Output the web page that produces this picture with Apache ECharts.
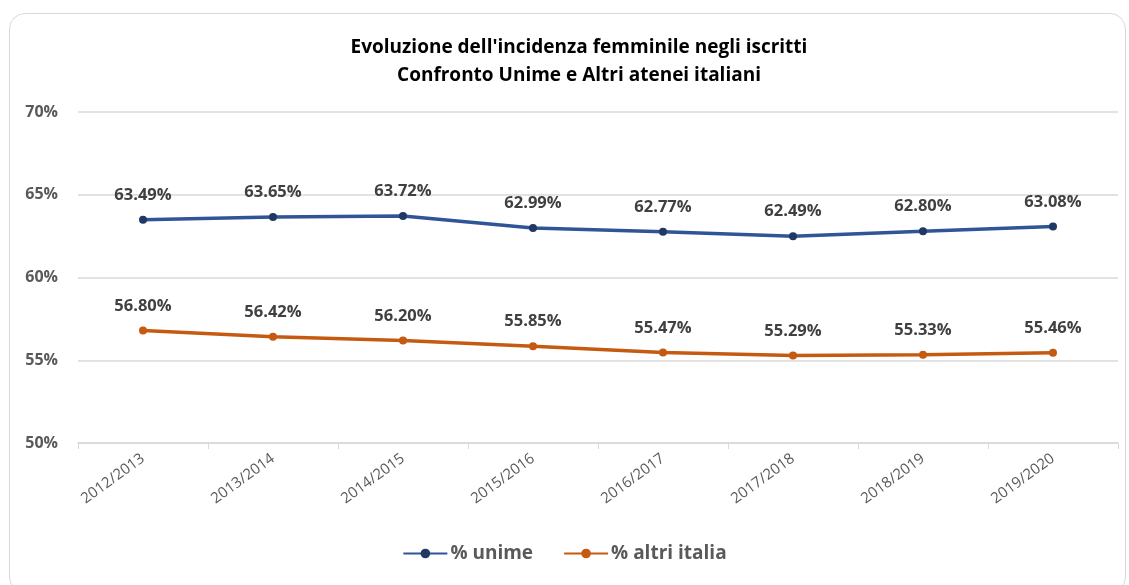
<!DOCTYPE html>
<html>
<head>
<meta charset="utf-8">
<script src="https://cdn.jsdelivr.net/npm/echarts@6/dist/echarts.min.js"></script>
<style>
  html, body { margin: 0; padding: 0; background: #fff; }
  #frame { position: absolute; left: 9px; top: 13px; width: 1117px; height: 580px;
    border: 1px solid #d9d9d9; border-radius: 16px; box-sizing: border-box; }
  #main { position: absolute; left: 0; top: 0; width: 1129px; height: 585px; }
</style>
</head>
<body>
<div id="frame"></div>
<div id="main"></div>
<script>
// anni accademici
const anni = ['2012/2013', '2013/2014', '2014/2015', '2015/2016', '2016/2017', '2017/2018', '2018/2019', '2019/2020']
// incidenza femminile (%)
const unime = [63.49, 63.65, 63.72, 62.99, 62.77, 62.49, 62.80, 63.08]
const altriItalia = [56.80, 56.42, 56.20, 55.85, 55.47, 55.29, 55.33, 55.46]

const font = '"Open Sans", "Liberation Sans", sans-serif'
const blu = '#2f5597'
const arancio = '#c55a11'

let myChart = echarts.init(document.getElementById('main'))

const labelStyle = {
  show: true,
  position: 'top',
  distance: 12,
  fontFamily: font,
  fontSize: 16.5,
  fontWeight: 'bold',
  color: '#404040',
  formatter: p => p.value.toFixed(2) + '%'
}

let option = {
  animation: false,
  title: {
    text: "Evoluzione dell'incidenza femminile negli iscritti\nConfronto Unime e Altri atenei italiani",
    left: 574,
    top: 29,
    textAlign: 'center',
    textStyle: { fontFamily: font, fontSize: 19, fontWeight: 'bold', color: '#000', lineHeight: 28, align: 'center' }
  },
  grid: { left: 78, right: 11, top: 112, bottom: 142 },
  legend: {
    bottom: 17,
    left: 'center',
    itemWidth: 44,
    itemHeight: 12,
    itemGap: 30,
    textStyle: { fontFamily: font, fontSize: 19, fontWeight: 'bold', color: '#595959', padding: [0, 0, 0, -2] },
    data: ['% unime', '% altri italia']
  },
  xAxis: {
    type: 'category',
    data: anni,
    boundaryGap: true,
    axisLine: { lineStyle: { color: '#d9d9d9', width: 1.5 } },
    axisTick: { show: true, length: 6, lineStyle: { color: '#d9d9d9' } },
    axisLabel: { rotate: 36, margin: 14, fontFamily: font, fontSize: 15, color: '#595959' }
  },
  yAxis: {
    type: 'value',
    min: 50,
    max: 70,
    interval: 5,
    axisLine: { show: false },
    axisTick: { show: false },
    splitLine: { lineStyle: { color: '#d9d9d9', width: 1.5 } },
    axisLabel: {
      margin: 20,
      fontFamily: font, fontSize: 16, fontWeight: 'bold', color: '#595959',
      formatter: v => v + '%'
    }
  },
  series: [
    {
      name: '% unime',
      type: 'line',
      data: unime,
      symbol: 'circle',
      symbolSize: 8,
      lineStyle: { color: blu, width: 3.5 },
      itemStyle: { color: '#203864' },
      label: labelStyle
    },
    {
      name: '% altri italia',
      type: 'line',
      data: altriItalia,
      symbol: 'circle',
      symbolSize: 8,
      lineStyle: { color: arancio, width: 3.5 },
      itemStyle: { color: arancio },
      label: labelStyle
    }
  ]
}
myChart.setOption(option)
</script>
</body>
</html>
